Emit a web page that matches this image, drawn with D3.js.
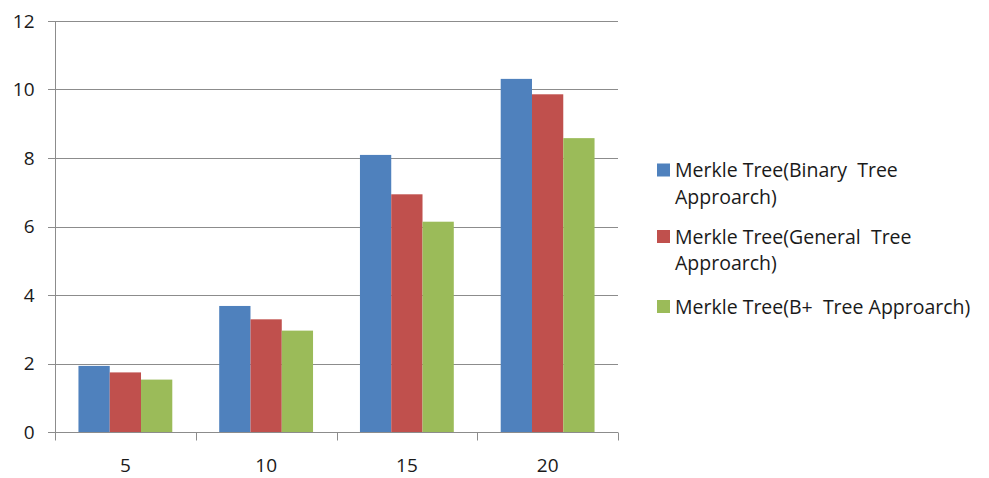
<!DOCTYPE html>
<html>
<head>
<meta charset="utf-8">
<script src="https://cdn.jsdelivr.net/npm/d3@7"></script>
<style>
  html, body { margin: 0; padding: 0; background: #fff; }
  svg text { font-family: "Open Sans", "Noto Sans", sans-serif; fill: #1a1a1a; }
</style>
</head>
<body>
<svg id="chart" width="989" height="478"></svg>
<script>
// Chart data
const categories = ["5", "10", "15", "20"];
const seriesNames = [
  ["Merkle Tree(Binary  Tree", "Approarch)"],
  ["Merkle Tree(General  Tree", "Approarch)"],
  ["Merkle Tree(B+  Tree Approarch)"]
];
const binaryTree = [1.93, 3.68, 8.09, 10.31];
const generalTree = [1.74, 3.29, 6.94, 9.86];
const bplusTree = [1.53, 2.96, 6.14, 8.58];
const yTicks = [0, 2, 4, 6, 8, 10, 12];
const colors = ["#4F81BD", "#C0504D", "#9BBB59"];

const series = [binaryTree, generalTree, bplusTree];

const svg = d3.select("#chart");
const plot = { left: 55, right: 618, top: 21, bottom: 432 };

const x0 = d3.scaleBand().domain(categories).range([plot.left, plot.right]).padding(0);
const step = x0.bandwidth();
// gap width 150% of a bar: 3 bars + 1.5 bar of gap per category
const barW = step / 4.5;
const x1 = d3.scaleBand().domain(d3.range(series.length))
  .range([barW * 0.75, step - barW * 0.75]).padding(0);
const y = d3.scaleLinear().domain([0, 12]).range([plot.bottom, plot.top]);

// Horizontal gridlines
svg.append("g")
  .selectAll("line")
  .data(yTicks)
  .join("line")
  .attr("x1", plot.left - 7)
  .attr("x2", plot.right)
  .attr("y1", d => Math.round(y(d)) + 0.5)
  .attr("y2", d => Math.round(y(d)) + 0.5)
  .attr("stroke", "#8c8c8c")
  .attr("stroke-width", 1);

// Bars
const groups = svg.append("g")
  .selectAll("g")
  .data(categories)
  .join("g")
  .attr("transform", d => `translate(${x0(d)},0)`);

groups.selectAll("rect")
  .data((c, i) => series.map((s, k) => ({ k, v: s[i] })))
  .join("rect")
  .attr("x", d => x1(d.k))
  .attr("width", x1.bandwidth())
  .attr("y", d => y(d.v))
  .attr("height", d => y(0) - y(d.v))
  .attr("fill", d => colors[d.k]);

// Y axis
const yAxis = d3.axisLeft(y).tickValues(yTicks).tickSize(7).tickPadding(14).tickFormat(d3.format("d"));
const gy = svg.append("g").attr("transform", `translate(${plot.left + 0.5},0)`).call(yAxis);
gy.select(".domain").attr("stroke", "#8c8c8c").attr("d", `M0,${plot.top}V${plot.bottom}`);
gy.selectAll(".tick line").remove();
gy.selectAll(".tick text").attr("font-size", 19).attr("font-family", "'Open Sans', sans-serif").attr("fill", "#1a1a1a");

// X axis
const xAxis = d3.axisBottom(x0).tickSize(0).tickPadding(26);
const gx = svg.append("g").attr("transform", `translate(0,${Math.round(plot.bottom) + 0.5})`).call(xAxis);
gx.select(".domain").attr("stroke", "#8c8c8c").attr("d", `M${plot.left},0H${plot.right}`);
gx.selectAll(".tick text").attr("font-size", 19).attr("font-family", "'Open Sans', sans-serif").attr("fill", "#1a1a1a");
// category boundary tick marks
const bounds = categories.map(c => x0(c)).concat([plot.right]);
gx.append("g").selectAll("line")
  .data(bounds)
  .join("line")
  .attr("x1", d => Math.round(d) + 0.5)
  .attr("x2", d => Math.round(d) + 0.5)
  .attr("y1", 0)
  .attr("y2", 8)
  .attr("stroke", "#8c8c8c");

// Legend
const legendBase = [177, 243.5, 313.5];
const legend = svg.append("g");
seriesNames.forEach((lines, k) => {
  legend.append("rect")
    .attr("x", 657)
    .attr("y", legendBase[k] - 13.5)
    .attr("width", 13)
    .attr("height", 13)
    .attr("fill", colors[k]);
  const t = legend.append("text")
    .attr("x", 675)
    .attr("y", legendBase[k])
    .attr("font-size", 19.5)
    .attr("xml:space", "preserve")
    .style("white-space", "pre");
  lines.forEach((ln, j) => {
    t.append("tspan").attr("x", 675).attr("dy", j === 0 ? 0 : 26.5).text(ln);
  });
});
</script>
</body>
</html>
